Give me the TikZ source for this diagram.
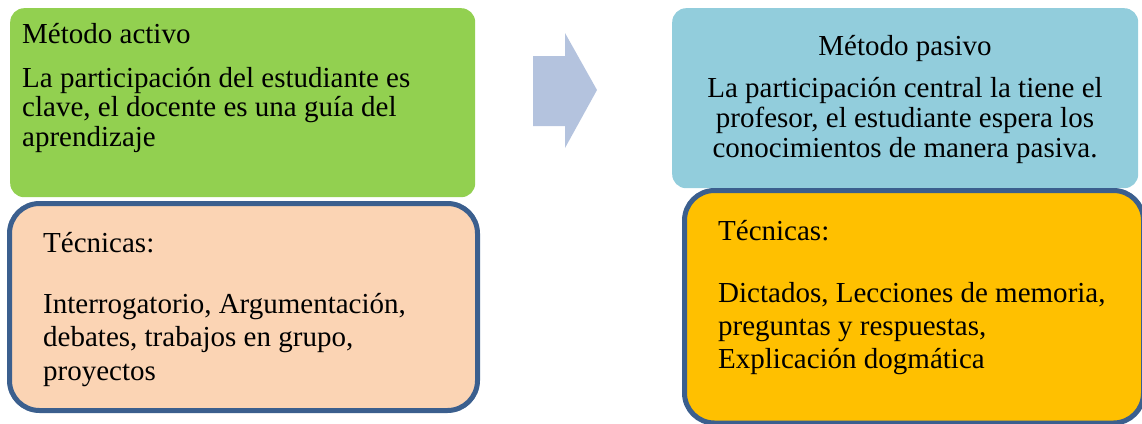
\documentclass[tikz,border=0pt]{standalone}
\usepackage{fontspec}
\setmainfont{Liberation Serif}
\definecolor{verde}{HTML}{92D050}
\definecolor{durazno}{HTML}{FBD4B4}
\definecolor{celeste}{HTML}{92CDDC}
\definecolor{naranja}{HTML}{FFC000}
\definecolor{borde}{HTML}{3B5F8E}
\definecolor{flecha}{HTML}{B4C3DE}

\begin{document}
\begin{tikzpicture}[x=1pt,y=-1pt,font=\fontsize{29}{29.5}\selectfont,
        caja/.style={anchor=north west,inner sep=0pt,rounded corners=14pt},
        tecnica/.style={anchor=north west,inner sep=0pt,draw=borde,line width=5pt,rounded corners=30pt},
        texto/.style={anchor=base west,inner sep=0pt,align=left}]
        \useasboundingbox (0,0) rectangle (1142,423);
        \clip (0,0) rectangle (1142,423);

        \node[caja,fill=verde,minimum width=465pt,minimum height=189pt] (activo) at (10,8) {};
        \node[tecnica,fill=durazno,minimum width=468pt,minimum height=207pt] (tecactivo) at (7,201) {};
        \node[caja,fill=celeste,minimum width=466pt,minimum height=180pt] (pasivo) at (672,8) {};
        \node[tecnica,fill=naranja,minimum width=459pt,minimum height=232.5pt] (tecpasivo) at (682,188) {};

        \fill[flecha] (533,56) -- (565,56) -- (565,33) -- (597,90) -- (565,148) -- (565,126) -- (533,126) -- cycle;

        % multi-line texts sit on the baseline of their last line
        \node[texto] (tactivo) at (22,43) {Método activo};
        \node[texto] (dactivo) at (22,146) {La participación del estudiante es\\clave, el docente es una guía del\\aprendizaje};
        \node[texto] (ttecactivo) at (43,252) {Técnicas:};
        \node[texto,font=\fontsize{29}{33.5}\selectfont] (dtecactivo) at (43,380) {Interrogatorio, Argumentación,\\debates, trabajos en grupo,\\proyectos};

        \node[anchor=base,inner sep=0pt] (tpasivo) at (905,55) {Método pasivo};
        \node[anchor=base,inner sep=0pt,align=center,font=\fontsize{29}{30}\selectfont] (dpasivo) at (905,157) {La participación central la tiene el\\profesor, el estudiante espera los\\conocimientos de manera pasiva.};
        \node[texto] (ttecpasivo) at (718,240) {Técnicas:};
        \node[texto,font=\fontsize{29}{33}\selectfont] (dtecpasivo) at (718,368) {Dictados, Lecciones de memoria,\\preguntas y respuestas,\\Explicación dogmática};
\end{tikzpicture}
\end{document}
